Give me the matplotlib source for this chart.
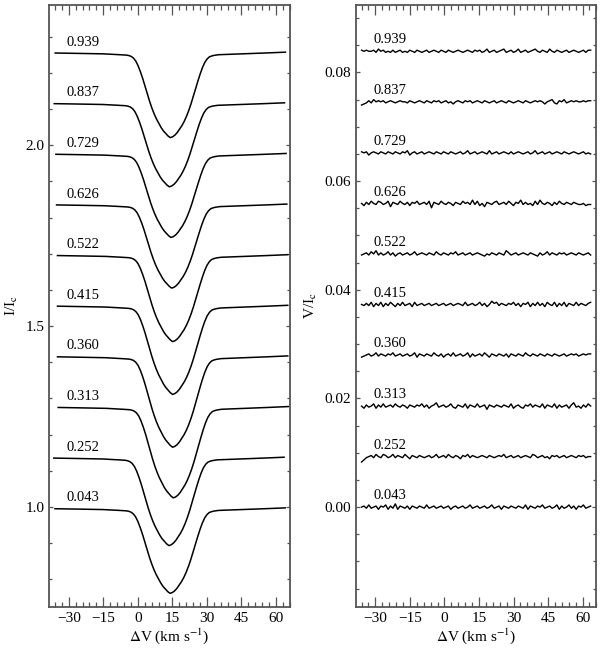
import numpy as np
import matplotlib
matplotlib.use("Agg")
import matplotlib.pyplot as plt
from matplotlib.ticker import MultipleLocator, FormatStrFormatter

plt.rcParams['font.family'] = ['Liberation Serif', 'DejaVu Serif']
plt.rcParams['mathtext.fontset'] = 'stix'

# rotational phases, bottom to top
phases = ['0.043', '0.252', '0.313', '0.360', '0.415',
          '0.522', '0.626', '0.729', '0.837', '0.939']

# Stokes I: common line shape (fraction of full depth)
vel_i = [-36, -25, -15, -8, -5, -4, -3, -2, -1, 0, 1, 2, 3, 4, 5, 6, 7, 8, 9,
         10, 11, 12, 13, 14, 15, 16, 17, 18, 19, 20, 21, 22, 23, 24, 25, 26,
         27, 28, 29, 30, 31, 32, 33, 35, 45, 55, 64]
shape_i = [0.0, 0.005, 0.01, 0.02, 0.025, 0.03, 0.04, 0.06, 0.095, 0.15,
           0.22, 0.30, 0.39, 0.48, 0.57, 0.65, 0.72, 0.78, 0.83, 0.88, 0.92,
           0.95, 0.98, 1.0, 0.99, 0.97, 0.94, 0.90, 0.86, 0.81, 0.75, 0.68,
           0.60, 0.51, 0.42, 0.33, 0.245, 0.17, 0.11, 0.07, 0.045, 0.035,
           0.028, 0.02, 0.01, 0.0, -0.01]
cont_i = [0.995, 1.135, 1.275, 1.415, 1.555, 1.695, 1.835, 1.975, 2.115, 2.255]
depth_i = [0.234, 0.242, 0.25, 0.25, 0.244, 0.238, 0.23, 0.23, 0.23, 0.234]
shift_i = [0.0, -0.5, 1.4, 1.1, 1.1, 1.1, 0.7, 0.4, -0.3, 0.1]

# Stokes V: offsets and residual wiggles (units of 1e-4 I_c)
offset_v = [0.0, 0.0093, 0.0186, 0.0280, 0.0373,
            0.0466, 0.0559, 0.0652, 0.0746, 0.0839]
noise_v = [
    [0, 1, -1, 2, -1, 0, 1, -2, 1, 0, 2, -2, 1, -1, 3, -2,
     1, 0, -1, 1, -2, 1, 0, -1, 1, 0, -1, 2, -1, 0, 1, -1,
     0, 1, -1, 0, 1, -2, 0, 1, -1, 0, 1, -1, 0, 2, -1, 0,
     1, -1, 0, 1, -1, 0, 2, -1, 0, 1, -2, 1, 0, -1, 1, 0,
     -1, 1, 0, -1, 2, -2, 1, 0, -1, 1, 0, 2, -1, 0, 1, -1,
     0, 2, -2, 1, -1, 0, 2, -1, 1, -2, 1, 0, 2, -1, 0, 1],
    [-5, -3, -1, 0, 1, -1, 2, 0, -1, 2, 1, -1, 0, 2, -1, 1,
     0, -1, 2, 0, -2, 1, 0, -1, 1, 0, -1, 0, 1, -1, 0, 2,
     -1, 0, 1, -1, 2, 0, -1, 1, 0, -2, 1, 0, 2, -1, 1, 0,
     -1, 0, 1, 0, -1, 1, 0, -1, 0, 1, 0, 2, -1, 0, 1, -1,
     0, 1, -1, 0, 1, 0, -1, 2, 1, -1, 0, 1, -1, 0, -2, 1,
     0, 1, -1, 0, 1, -1, 0, 1, 0, -1, 1, 0, 1, -1, 0, 0],
    [0, -2, 1, -1, 0, 2, -2, 1, -1, 2, -1, 0, 1, -1, 2, 0,
     -1, 1, 0, -2, 1, 0, -1, 1, 0, 2, -1, 1, -2, 0, 1, 3,
     -1, 0, 1, -1, 0, 2, -1, -2, 1, 0, -1, 2, -2, 1, 0, -1,
     2, -1, 0, 1, -3, 1, 0, -1, 1, 0, -1, 1, 0, -1, 2, -2,
     0, 1, -1, -2, 1, 0, 2, -1, 1, 0, -1, 2, -2, 1, 0, -1,
     2, -2, 1, -1, 0, 1, -2, 1, 3, -1, 0, -2, 1, -1, 2, 0],
    [-2, -1, 0, 1, -1, 0, 2, -1, 1, 0, -1, 1, 0, 2, -1, 0,
     1, -1, 0, 1, -1, 0, 2, -2, 1, 0, -1, 1, 0, -1, 2, 0,
     -1, 1, -2, 0, 1, -1, 2, -1, 0, 1, -1, 0, 2, -2, 1, -1,
     0, 1, -1, 2, 0, -2, 1, 0, -1, 1, 0, -1, 1, -2, 1, 0,
     -1, 1, 0, -1, 2, 0, -1, 1, 0, -1, 1, 0, -1, 1, 0, -1,
     1, 0, -1, 0, 1, -1, 0, 1, 0, 1, -1, 0, 1, 0, 1, 1],
    [0, -1, 1, -1, 2, -2, 1, -1, 2, -2, 1, -1, 2, 0, -2, 1,
     -1, 2, -1, 0, 1, -2, 2, -1, 0, 1, -1, 0, 1, -1, 0, 1,
     -1, 0, 1, -1, 0, 1, -1, 0, 1, 0, -1, 2, -1, 0, 1, -1,
     0, 2, -1, 1, -2, 0, 3, 1, 2, -1, 1, 0, -1, 1, 0, 2,
     -1, 1, -2, 1, 0, 2, -2, 1, -1, 2, -1, 1, -2, 2, 0, -1,
     2, -2, 1, -1, 2, -2, 1, 0, -1, 2, -1, 1, 0, -1, 1, 2],
    [-1, 0, 1, -1, 2, 0, 3, -1, 1, -1, 0, 2, -1, 1, -2, 0,
     1, -1, 0, 1, -1, 0, 2, -1, 0, 1, 0, -1, 1, 0, -1, 2,
     0, -1, 1, 0, -1, 1, 0, 2, -1, 0, 1, -1, 0, 1, -1, 0,
     1, 0, -1, -2, 0, -1, 1, 0, -1, 1, 0, -1, 3, 1, -1, 0,
     1, -1, 0, 1, 0, -1, 1, 0, -1, -2, 1, -1, 0, 2, -1, 1,
     0, -1, 1, 0, 1, -1, 0, 1, 0, -1, 1, 0, -1, 0, 1, -1],
    [0, -2, 1, -1, 2, 0, -1, 2, 1, -1, 0, 2, -3, 1, 0, -1,
     2, 0, -1, 1, -2, 1, 0, 2, -1, 0, 1, -1, 2, -4, 1, 0,
     -1, 2, 0, -1, 1, 0, -2, 1, 0, -1, 2, 0, 1, -1, 3, -1,
     2, -2, 0, -3, 1, 0, -1, 1, 2, -1, 0, 1, -1, 2, 0, -2,
     1, 0, 3, -1, 1, -1, 0, -2, 2, -1, 3, 0, -1, 1, 0, -2,
     1, -1, 2, 0, -1, 1, 0, -1, 1, 0, -1, -1, 0, -2, -1, -1],
    [1, 0, 1, -2, 0, 1, 0, -1, 1, 0, -1, 1, 0, -1, 1, 0,
     -1, 1, 0, 2, -2, 0, 1, -1, 0, 1, -1, 0, 1, 0, -1, 1,
     0, -1, 1, 0, -1, 1, 0, -1, 0, 1, -1, 0, 2, -1, 0, 1,
     -1, 0, 1, 0, -1, 2, -1, 0, 1, -1, 0, 1, 0, -1, 1, -1,
     0, 1, 0, -1, 0, 1, -1, 0, 2, -1, 0, 1, -1, 0, 1, -1,
     0, 1, 0, -1, 1, 0, -1, 0, 1, 0, -1, 0, 1, -1, 0, -1],
    [-3, -2, -1, 1, -1, 2, 0, 1, 0, 1, -1, 0, 1, 0, -1, 0,
     1, 0, 0, -1, 1, 0, -1, 0, 1, 0, -1, 1, 0, -1, 1, 0,
     1, -1, 0, 1, -1, 0, -2, 0, 1, 0, -1, 1, 0, 1, -1, 0,
     1, 0, -1, 1, 0, -1, 0, 1, -1, 0, 1, 0, -1, 1, 0, -1,
     0, 1, 0, -1, 1, 0, -1, 0, 1, 0, 1, 0, -2, 0, 1, 2,
     -1, -2, 1, 0, 2, -1, 0, 1, 0, 1, 0, 0, 1, 0, 1, 1],
    [1, 0, 1, 0, 0, 1, -1, 2, 0, 1, -1, 0, -1, 1, -1, 0,
     1, -1, 0, -1, 1, 0, -1, 1, 0, -1, 0, 1, -1, 0, 1, 0,
     -1, 1, 0, -1, 1, 0, -1, 0, 1, 0, -1, 0, 1, 0, -1, 1,
     0, 1, -1, 0, 2, -1, 0, 1, -1, 0, 1, 2, -1, 0, 1, -1,
     0, 2, -1, 0, 1, -1, 0, 1, 2, 0, -1, 1, 0, -1, 2, 0,
     -1, 1, 0, -1, 0, 1, -1, 0, 1, 0, -1, 0, 1, -1, 1, 1],
]

frame_col = '#555555'


def style_axes(ax):
    for sp in ax.spines.values():
        sp.set_color(frame_col)
        sp.set_linewidth(1.3)
    ax.xaxis.set_major_locator(MultipleLocator(15))
    ax.xaxis.set_minor_locator(MultipleLocator(3))
    ax.tick_params(axis='both', which='both', direction='in',
                   top=True, right=True, color=frame_col, width=0.9,
                   labelsize=11)
    ax.tick_params(axis='x', which='major', length=7.5)
    ax.tick_params(axis='x', which='minor', length=3.8)
    ax.tick_params(axis='y', which='major', length=3.2)
    ax.tick_params(axis='y', which='minor', length=2.2)
    ax.set_xlim(-38.5, 66)
    ax.set_xlabel(r'$\Delta$V (km s$^{-1}$)', fontsize=11, labelpad=1)


fig = plt.figure(figsize=(6, 6.5), dpi=100)
ax1 = fig.add_axes([0.082, 0.066, 0.401, 0.927])
ax2 = fig.add_axes([0.593, 0.066, 0.401, 0.927])

# left: Stokes I
vi = np.array(vel_i)
fi = np.array(shape_i)
for k, ph in enumerate(phases):
    ax1.plot(vi + shift_i[k], cont_i[k] - depth_i[k] * fi, color='black', lw=1.1)
    ax1.text(-31, cont_i[k] + 0.012, ph, fontsize=10.5, ha='left', va='bottom')
ax1.set_ylim(0.723, 2.389)
ax1.yaxis.set_major_locator(MultipleLocator(0.5))
ax1.yaxis.set_minor_locator(MultipleLocator(0.1))
ax1.yaxis.set_major_formatter(FormatStrFormatter('%.1f'))
ax1.set_ylabel(r'I/I$_{\rm c}$', fontsize=11)
style_axes(ax1)

# right: Stokes V
for k, ph in enumerate(phases):
    nv = np.array(noise_v[k]) * 2.0e-4
    vv = np.linspace(-36, 63.5, len(nv))
    ax2.plot(vv, offset_v[k] + nv, color='black', lw=1.0)
    ax2.text(-31, offset_v[k] + 0.0009, ph, fontsize=10.5, ha='left', va='bottom')
ax2.set_ylim(-0.0184, 0.0925)
ax2.yaxis.set_major_locator(MultipleLocator(0.02))
ax2.yaxis.set_minor_locator(MultipleLocator(0.005))
ax2.yaxis.set_major_formatter(FormatStrFormatter('%.2f'))
ax2.set_ylabel(r'V/I$_{\rm c}$', fontsize=11)
style_axes(ax2)

fig.savefig('out.png', dpi=100)
